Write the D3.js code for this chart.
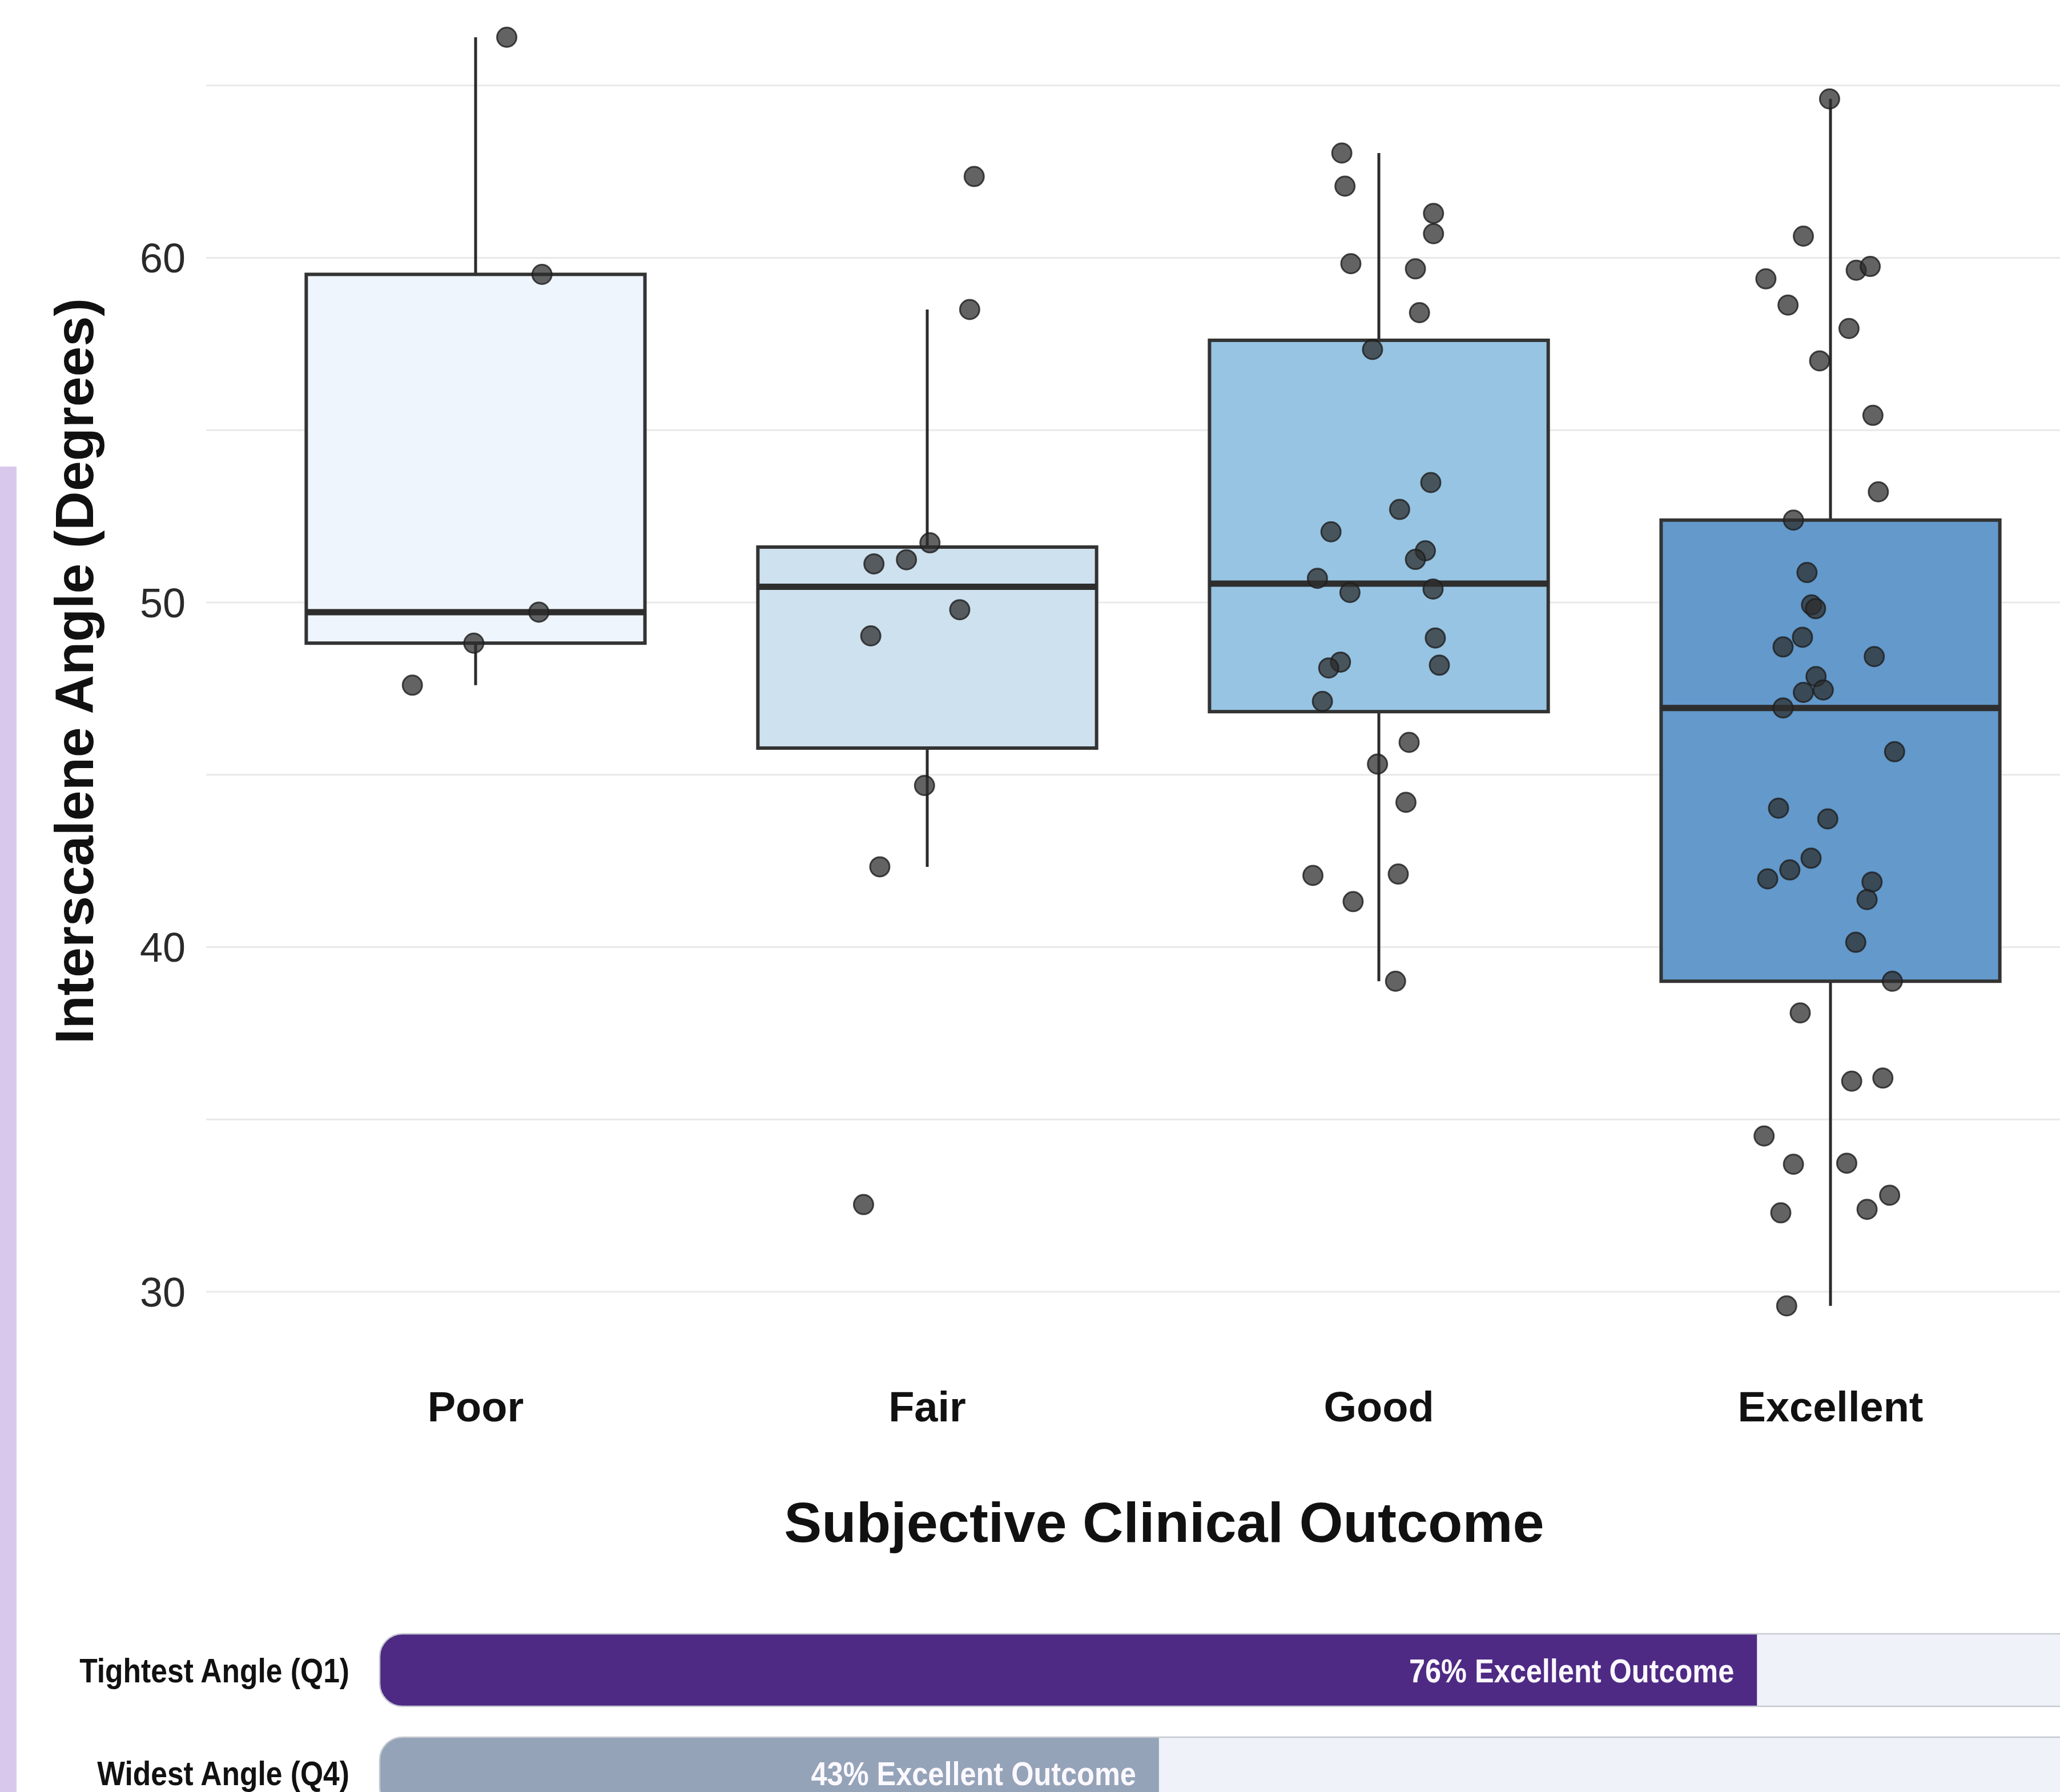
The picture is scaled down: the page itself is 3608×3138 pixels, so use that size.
<!DOCTYPE html>
<html>
<head>
<meta charset="utf-8">
<script src="https://cdn.jsdelivr.net/npm/d3@7"></script>
<style>
  html, body { margin: 0; padding: 0; background: #ffffff; overflow: hidden; }
  svg { display: block; }
</style>
</head>
<body>
<div id="chart"></div>
<script>
// ---------------- DATA ----------------
const categories = ["Poor", "Fair", "Good", "Excellent"];

const poorAngles = [66.40, 59.52, 49.72, 48.82, 47.60];
const poorJitter = [0.069, 0.147, 0.140, -0.004, -0.140];

const fairAngles = [62.36, 58.50, 51.73, 51.12, 51.24, 49.79, 49.03, 44.69, 42.33, 32.53];
const fairJitter = [0.104, 0.094, 0.006, -0.118, -0.046, 0.072, -0.125, -0.006, -0.105, -0.141];

const goodAngles = [63.04, 62.08, 61.29, 60.70, 59.83, 59.68, 58.41, 57.34, 53.48, 52.70,
                    52.05, 51.50, 51.25, 50.70, 50.39, 50.29, 48.97, 48.27, 48.18, 48.10,
                    47.13, 45.94, 45.31, 44.20, 42.12, 42.08, 41.32, 39.01];
const goodJitter = [-0.082, -0.075, 0.121, 0.121, -0.062, 0.081, 0.090, -0.014, 0.115, 0.046,
                    -0.106, 0.103, 0.081, -0.136, 0.120, -0.064, 0.125, -0.085, 0.134, -0.111,
                    -0.125, 0.067, -0.003, 0.060, 0.043, -0.146, -0.057, 0.037];

const excellentAngles = [64.61, 60.63, 59.39, 59.64, 59.75, 58.63, 57.95, 57.01, 55.43, 53.21,
                         52.39, 50.87, 49.93, 49.82, 48.99, 48.71, 48.43, 47.85, 47.39, 47.46,
                         46.94, 45.67, 44.03, 43.72, 42.58, 42.24, 41.98, 41.89, 41.38, 40.14,
                         39.01, 38.09, 36.11, 36.20, 34.52, 33.70, 33.73, 32.80, 32.29, 32.39,
                         29.59];
const excellentJitter = [-0.002, -0.060, -0.143, 0.057, 0.088, -0.094, 0.041, -0.024, 0.094, 0.106,
                         -0.082, -0.052, -0.042, -0.033, -0.062, -0.105, 0.097, -0.032, -0.060, -0.016,
                         -0.105, 0.142, -0.115, -0.006, -0.043, -0.090, -0.139, 0.092, 0.081, 0.056,
                         0.137, -0.067, 0.047, 0.116, -0.147, -0.082, 0.036, 0.131, -0.110, 0.081,
                         -0.097];

const yTicks = [30, 40, 50, 60];
const yGrid = [30, 35, 40, 45, 50, 55, 60, 65];

const barLabels = ["Tightest Angle (Q1)", "Widest Angle (Q4)"];
const barValues = [76, 43];
const barTexts = ["76% Excellent Outcome", "43% Excellent Outcome"];

const yTitle = "Interscalene Angle (Degrees)";
const xTitle = "Subjective Clinical Outcome";

// ---------------- STYLE ----------------
const boxColors = ["#eff5fc", "#cee1ee", "#97c4e3", "#6399cb"];
const barColors = ["#4e2a84", "#94a3b8"];
const W = 3608, H = 3138;

const svg = d3.select("#chart").append("svg")
  .attr("width", W).attr("height", H)
  .style("font-family", "'Liberation Sans', Arial, Helvetica, sans-serif");

svg.append("rect").attr("width", W).attr("height", H).attr("fill", "#ffffff");

// left decorative strip
svg.append("rect").attr("x", 0).attr("y", 817).attr("width", 29).attr("height", H - 817)
  .attr("fill", "#d8c9ec");

// ---------------- SCALES ----------------
const x = d3.scaleBand().domain(categories).range([437.5, 3601.5]).padding(0);
const bw = x.bandwidth();
const y = d3.scaleLinear().domain([30, 60]).range([2262, 451.5]);
const gridLeft = 361, gridRight = 3717;

// gridlines
svg.append("g").selectAll("line").data(yGrid).join("line")
  .attr("x1", gridLeft).attr("x2", gridRight)
  .attr("y1", d => y(d)).attr("y2", d => y(d))
  .attr("stroke", "#e9e9e9").attr("stroke-width", 3);

// y axis via d3.axisLeft (styled)
const yAxis = svg.append("g").attr("transform", `translate(${gridLeft},0)`)
  .call(d3.axisLeft(y).tickValues(yTicks).tickSize(0).tickPadding(36).tickFormat(d3.format("d")));
yAxis.select(".domain").remove();
yAxis.selectAll("text").attr("font-size", 72).attr("fill", "#2a2a2a")
  .attr("font-family", "'Liberation Sans', Arial, sans-serif").attr("dy", "0.35em");

// y title
svg.append("text")
  .attr("transform", `translate(163,1175) rotate(-90)`)
  .attr("text-anchor", "middle")
  .attr("font-size", 95).attr("font-weight", "bold").attr("fill", "#111")
  .text(yTitle);

// x axis via d3.axisBottom (styled)
const xAxis = svg.append("g").attr("transform", `translate(0,2262)`)
  .call(d3.axisBottom(x).tickSize(0).tickPadding(0));
xAxis.select(".domain").remove();
xAxis.selectAll("text").attr("font-size", 74).attr("font-weight", "bold").attr("fill", "#111")
  .attr("y", 227).attr("dy", 0)
  .attr("font-family", "'Liberation Sans', Arial, sans-serif");

// x title
svg.append("text")
  .attr("x", (gridLeft + gridRight) / 2).attr("y", 2700)
  .attr("text-anchor", "middle")
  .attr("font-size", 99).attr("font-weight", "bold").attr("fill", "#111")
  .text(xTitle);

// ---------------- BOXES ----------------
const series = [
  { cat: "Poor", vals: poorAngles, jit: poorJitter },
  { cat: "Fair", vals: fairAngles, jit: fairJitter },
  { cat: "Good", vals: goodAngles, jit: goodJitter },
  { cat: "Excellent", vals: excellentAngles, jit: excellentJitter }
];

series.forEach((s, i) => {
  const sorted = s.vals.slice().sort(d3.ascending);
  const q1 = d3.quantileSorted(sorted, 0.25);
  const med = d3.quantileSorted(sorted, 0.5);
  const q3 = d3.quantileSorted(sorted, 0.75);
  const iqr = q3 - q1;
  const lo = d3.min(sorted.filter(v => v >= q1 - 1.5 * iqr));
  const hi = d3.max(sorted.filter(v => v <= q3 + 1.5 * iqr));
  const cx = x(s.cat) + bw / 2;
  const boxW = bw * 0.75;
  const g = svg.append("g");
  g.append("line").attr("x1", cx).attr("x2", cx).attr("y1", y(q3)).attr("y2", y(hi))
    .attr("stroke", "#2b2b2b").attr("stroke-width", 5);
  g.append("line").attr("x1", cx).attr("x2", cx).attr("y1", y(q1)).attr("y2", y(lo))
    .attr("stroke", "#2b2b2b").attr("stroke-width", 5);
  g.append("rect").attr("x", cx - boxW / 2).attr("width", boxW)
    .attr("y", y(q3)).attr("height", y(q1) - y(q3))
    .attr("fill", boxColors[i]).attr("stroke", "#333333").attr("stroke-width", 6);
  g.append("line").attr("x1", cx - boxW / 2).attr("x2", cx + boxW / 2)
    .attr("y1", y(med)).attr("y2", y(med))
    .attr("stroke", "#2e2e2e").attr("stroke-width", 11);
});

// points
series.forEach(s => {
  const cx = x(s.cat) + bw / 2;
  svg.append("g").selectAll("circle").data(s.vals.map((v, j) => ({ v, j: s.jit[j] }))).join("circle")
    .attr("cx", d => cx + d.j * bw)
    .attr("cy", d => y(d.v))
    .attr("r", 17)
    .attr("fill", "#2c2c2c").attr("fill-opacity", 0.74)
    .attr("stroke", "#1e1e1e").attr("stroke-opacity", 0.8).attr("stroke-width", 3);
});

// ---------------- BOTTOM BARS ----------------
const bx = d3.scaleLinear().domain([0, 100]).range([665, 3839]);
const by = d3.scaleBand().domain(barLabels).range([2861, 3169]).paddingInner(0.2983).paddingOuter(0);
const bh = by.bandwidth();
const radius = 40;
const defs = svg.append("defs");

barLabels.forEach((lab, i) => {
  const top = by(lab);
  const clipId = "clip" + i;
  defs.append("clipPath").attr("id", clipId)
    .append("rect").attr("x", bx(0)).attr("y", top).attr("width", bx(100) - bx(0)).attr("height", bh)
    .attr("rx", radius).attr("ry", radius);
  svg.append("rect").attr("x", bx(0)).attr("y", top).attr("width", bx(100) - bx(0)).attr("height", bh)
    .attr("rx", radius).attr("ry", radius).attr("fill", "#eff2f8");
  svg.append("rect").attr("clip-path", `url(#${clipId})`)
    .attr("x", bx(0)).attr("y", top).attr("width", bx(barValues[i]) - bx(0)).attr("height", bh)
    .attr("fill", barColors[i]);
  svg.append("rect").attr("x", bx(0)).attr("y", top).attr("width", bx(100) - bx(0)).attr("height", bh)
    .attr("rx", radius).attr("ry", radius).attr("fill", "none")
    .attr("stroke", "#c6c9d0").attr("stroke-width", 2.5);
  svg.append("text")
    .attr("transform", `translate(${bx(barValues[i]) - 40},${top + bh / 2 + 21}) scale(0.87,1)`)
    .attr("text-anchor", "end").attr("font-size", 58).attr("font-weight", "bold")
    .attr("fill", "#fbf8ff").text(barTexts[i]);
  svg.append("text")
    .attr("transform", `translate(612,${top + bh / 2 + 21}) scale(0.86,1)`)
    .attr("text-anchor", "end").attr("font-size", 60).attr("font-weight", "bold")
    .attr("fill", "#111").text(lab);
});
</script>
</body>
</html>
